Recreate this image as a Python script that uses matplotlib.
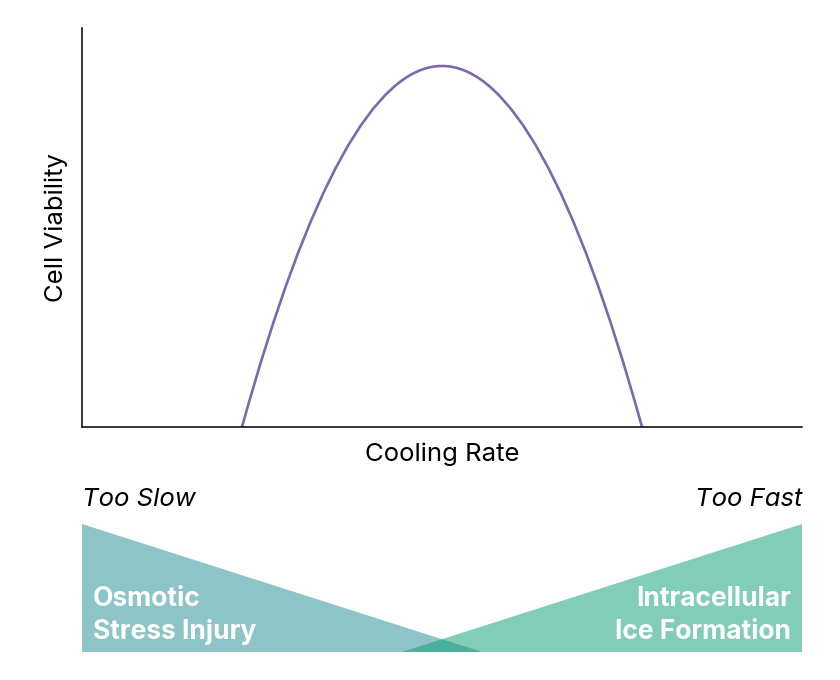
import matplotlib.pyplot as plt
from matplotlib.path import Path
from matplotlib.patches import PathPatch, Polygon

plt.rcParams['font.family'] = ['Inter', 'DejaVu Sans']

# viability curve: quadratic bezier (start, control, end) in axis units
curve_x = [0.2222, 0.5, 0.7778]
curve_y = [0.0, 1.81, 0.0]

# triangles for the two injury zones
slow_x = [0.0, 0.0, 0.5556]
slow_y = [0.0, 1.0, 0.0]
fast_x = [1.0, 1.0, 0.4444]
fast_y = [0.0, 1.0, 0.0]

purple = "#7b68ae"
slow_col = "#1d8b93"
fast_col = "#059d71"

fig = plt.figure(figsize=(8.4, 6.8), dpi=100)
ax = fig.add_axes([0.0976, 0.372, 0.8572, 0.5868])
ax.set_xlim(0, 1)
ax.set_ylim(0, 1)
verts = list(zip(curve_x, curve_y))
path = Path(verts, [Path.MOVETO, Path.CURVE3, Path.CURVE3])
ax.add_patch(PathPatch(path, facecolor="none", edgecolor=purple, lw=1.9))
for s in ["top", "right"]:
    ax.spines[s].set_visible(False)
for s in ["left", "bottom"]:
    ax.spines[s].set_linewidth(1.1)
ax.set_xticks([])
ax.set_yticks([])
ax.set_xlabel("Cooling Rate", fontsize=18.5, labelpad=11)
ax.set_ylabel("Cell Viability", fontsize=18.5, labelpad=10)

bx = fig.add_axes([0.0976, 0.0412, 0.8572, 0.1882])
bx.set_xlim(0, 1)
bx.set_ylim(0, 1)
bx.axis("off")
bx.add_patch(Polygon(list(zip(slow_x, slow_y)), closed=True, facecolor=slow_col, alpha=0.5, lw=0))
bx.add_patch(Polygon(list(zip(fast_x, fast_y)), closed=True, facecolor=fast_col, alpha=0.5, lw=0))

bx.text(0.0, 1.195, "Too Slow", fontsize=18.5, style="italic", ha="left", va="center")
bx.text(1.0, 1.195, "Too Fast", fontsize=18.5, style="italic", ha="right", va="center")
bx.text(0.015, 0.285, "Osmotic\nStress Injury", fontsize=19, fontweight="bold", color="white",
        ha="left", va="center", linespacing=1.36)
bx.text(0.985, 0.285, "Intracellular\nIce Formation", fontsize=19, fontweight="bold", color="white",
        ha="right", va="center", linespacing=1.36, multialignment="right")

fig.savefig("out.png", dpi=100)
